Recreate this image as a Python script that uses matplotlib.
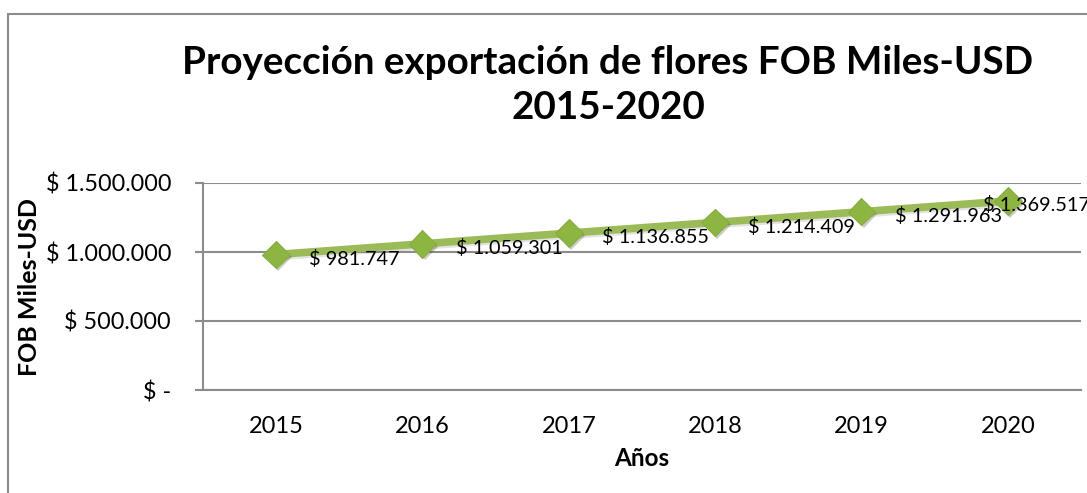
import matplotlib.pyplot as plt
import matplotlib.patheffects as pe
from matplotlib.patches import Rectangle
from matplotlib.ticker import FuncFormatter

# datos
years = ['2015', '2016', '2017', '2018', '2019', '2020']
fob = [981747, 1059301, 1136855, 1214409, 1291963, 1369517]
y_ticks = [0, 500000, 1000000, 1500000]

plt.rcParams['font.family'] = ['Lato', 'DejaVu Sans']

grey = '#8c8c8c'
green = '#9bbb59'
marker_green = '#8db542'


def pesos(v, pos=None):
	if v == 0:
		return '$ -'
	return '$ ' + f'{int(round(v)):,}'.replace(',', '.')


fig = plt.figure(figsize=(10.87, 4.93), dpi=100)
ax = fig.add_axes([203 / 1087, 103 / 493, 878 / 1087, 207 / 493])

# marco exterior del grafico
fig.add_artist(Rectangle((8 / 1087, -0.1), 1.2, (479 / 493) + 0.1,
	transform=fig.transFigure, fill=False, edgecolor=grey, linewidth=1.5))

x = list(range(len(years)))
ax.plot(x, fob, color=green, linewidth=5.5, solid_capstyle='butt', zorder=3,
	path_effects=[pe.SimpleLineShadow(offset=(1, -1.5), shadow_color='#777777', alpha=0.2), pe.Normal()])
ax.plot(x, fob, linestyle='none', marker='D', markersize=14, color=marker_green,
	markeredgecolor='#86ad3e', markeredgewidth=0.8, zorder=4,
	path_effects=[pe.SimplePatchShadow(offset=(1.5, -2), alpha=0.25), pe.Normal()])

for i, v in enumerate(fob):
	if i == len(fob) - 1:
		off = (-18, -3)
	else:
		off = (24, -3)
	ax.annotate(pesos(v), (x[i], v), xytext=off, textcoords='offset points',
		ha='left', va='center', fontsize=14.3, color='black', zorder=5,
		annotation_clip=False)

ax.set_xlim(-0.5, len(years) - 0.5)
ax.set_ylim(0, 1500000)
ax.set_xticks(x)
ax.set_xticklabels(years)
ax.set_yticks(y_ticks)
ax.yaxis.set_major_formatter(FuncFormatter(pesos))
ax.tick_params(axis='x', length=0, pad=19, labelsize=17)
ax.tick_params(axis='y', length=6, width=1.5, color=grey, pad=17, labelsize=16.8)

ax.grid(axis='y', color=grey, linewidth=1.5)
ax.set_axisbelow(True)
for s in ['top', 'right']:
	ax.spines[s].set_visible(False)
ax.spines['left'].set_color(grey)
ax.spines['left'].set_linewidth(1.5)
ax.spines['bottom'].set_color(grey)
ax.spines['bottom'].set_linewidth(1.5)

ax.set_xlabel('Años', fontsize=17.5, fontweight='bold', labelpad=7)
ax.set_ylabel('FOB Miles-USD', fontsize=18, fontweight='bold', va='center')
ax.yaxis.set_label_coords(-173 / 878, 0.5)

fig.text(608 / 1087, 1 - 63 / 493, 'Proyección exportación de flores FOB Miles-USD',
	ha='center', va='center', fontsize=27.8, fontweight='bold')
fig.text(608 / 1087, 1 - 108 / 493, '2015-2020',
	ha='center', va='center', fontsize=27.8, fontweight='bold')

fig.savefig('out.png', dpi=100)
